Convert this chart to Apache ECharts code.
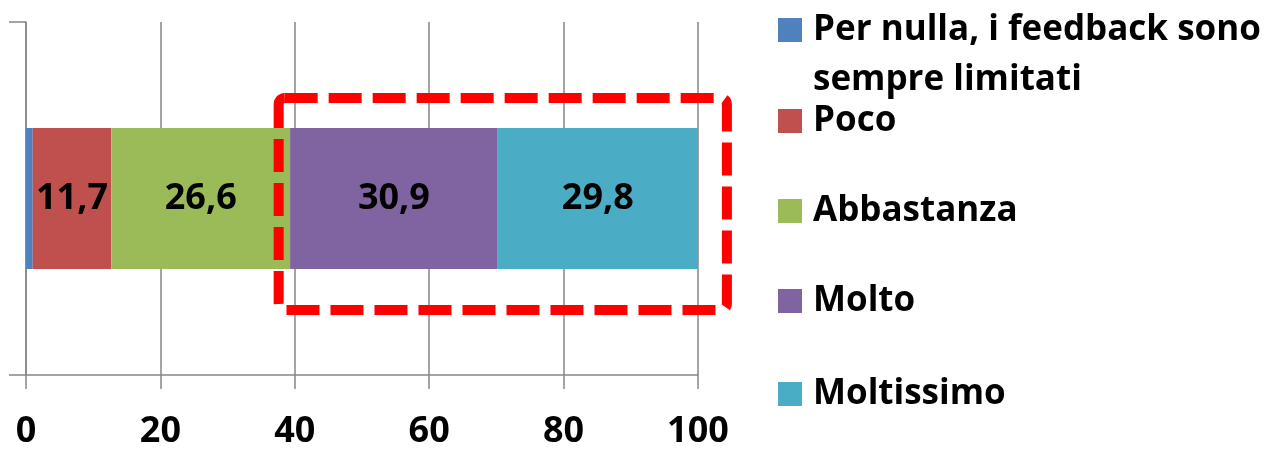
<!DOCTYPE html>
<html>
<head>
<meta charset="utf-8">
<script src="https://cdn.jsdelivr.net/npm/echarts@6/dist/echarts.min.js"></script>
<style>
  html, body { margin: 0; padding: 0; background: #ffffff; }
  #chart { width: 1270px; height: 450px; }
</style>
</head>
<body>
<div id="chart"></div>
<script>
// ---- Data ----
const categories = [''];
const seriesNames = [
  'Per nulla, i feedback sono\nsempre limitati',
  'Poco',
  'Abbastanza',
  'Molto',
  'Moltissimo'
];
const seriesValues = [1.0, 11.7, 26.6, 30.9, 29.8];
const showLabel = [false, true, true, true, true];
const xMin = 0, xMax = 100, xInterval = 20;

// ---- Styles ----
const colors = ['#4F81BD', '#C0504D', '#9BBB59', '#8064A2', '#4BACC6'];
const FONT = '"Open Sans", "Noto Sans", sans-serif';
const FS = 36;
const LFS = 35;
const LH = 50;
const legendIconCenters = [30, 121, 211, 301, 394];
// annotation box (x in data units, y in pixels)
const boxX0 = 37.6, boxX1 = 104.3, boxY0 = 98, boxY1 = 310;

const chart = echarts.init(document.getElementById('chart'), null, { renderer: 'canvas' });

const series = seriesNames.map((name, i) => ({
  name: name,
  type: 'bar',
  stack: 'total',
  barWidth: '40%',
  itemStyle: { color: colors[i] },
  label: {
    show: showLabel[i],
    position: 'inside',
    color: '#000',
    fontFamily: FONT,
    fontWeight: 'bold',
    fontSize: FS,
    formatter: p => p.value.toFixed(1).replace('.', ',')
  },
  emphasis: { disabled: true },
  data: [seriesValues[i]]
}));

const legends = seriesNames.map((name, i) => {
  const nLines = name.split('\n').length;
  const h = nLines * LH;
  // square icon aligned with the first text line
  const icon = nLines > 1
    ? 'path://M0,13L24,13L24,37L0,37Z M0,0L0.01,0L0.01,0.01Z M0,' + h + 'L0.01,' + h + 'L0.01,' + (h - 0.01) + 'Z'
    : 'rect';
  return {
    data: [name],
    orient: 'vertical',
    left: 778,
    top: legendIconCenters[i] - LH / 2,
    padding: 0,
    itemWidth: 24,
    itemHeight: nLines > 1 ? h : 24,
    icon: icon,
    selectedMode: false,
    textStyle: {
      fontFamily: FONT,
      fontWeight: 'bold',
      fontSize: LFS,
      color: '#000',
      lineHeight: LH,
      padding: [0, 0, 0, 6]
    }
  };
});

chart.setOption({
  animation: false,
  backgroundColor: '#ffffff',
  color: colors,
  grid: { left: 26, right: 572, top: 22, bottom: 69, containLabel: false },
  legend: legends,
  xAxis: {
    type: 'value',
    min: xMin, max: xMax, interval: xInterval,
    axisLine: { show: true, lineStyle: { color: '#868686', width: 1.5 } },
    axisTick: { show: true, length: 14, lineStyle: { color: '#868686', width: 1.5 } },
    splitLine: { show: true, lineStyle: { color: '#868686', width: 1.5 } },
    axisLabel: {
      color: '#000', fontFamily: FONT, fontWeight: 'bold', fontSize: FS, margin: 39
    }
  },
  yAxis: {
    type: 'category',
    data: categories,
    axisLine: { show: true, lineStyle: { color: '#868686', width: 1.5 } },
    axisTick: { show: true, length: 17, lineStyle: { color: '#868686', width: 1.5 } },
    axisLabel: { show: false }
  },
  series: series
});

// dashed annotation box around "Molto" + "Moltissimo"
const px0 = chart.convertToPixel({ xAxisIndex: 0 }, boxX0);
const px1 = chart.convertToPixel({ xAxisIndex: 0 }, boxX1);
chart.setOption({
  graphic: [{
    type: 'rect',
    shape: { x: px0, y: boxY0, width: px1 - px0, height: boxY1 - boxY0, r: 6 },
    style: { fill: 'none', stroke: '#FF0000', lineWidth: 10, lineDash: [33, 11] },
    silent: true,
    z: 100
  }]
});
</script>
</body>
</html>
